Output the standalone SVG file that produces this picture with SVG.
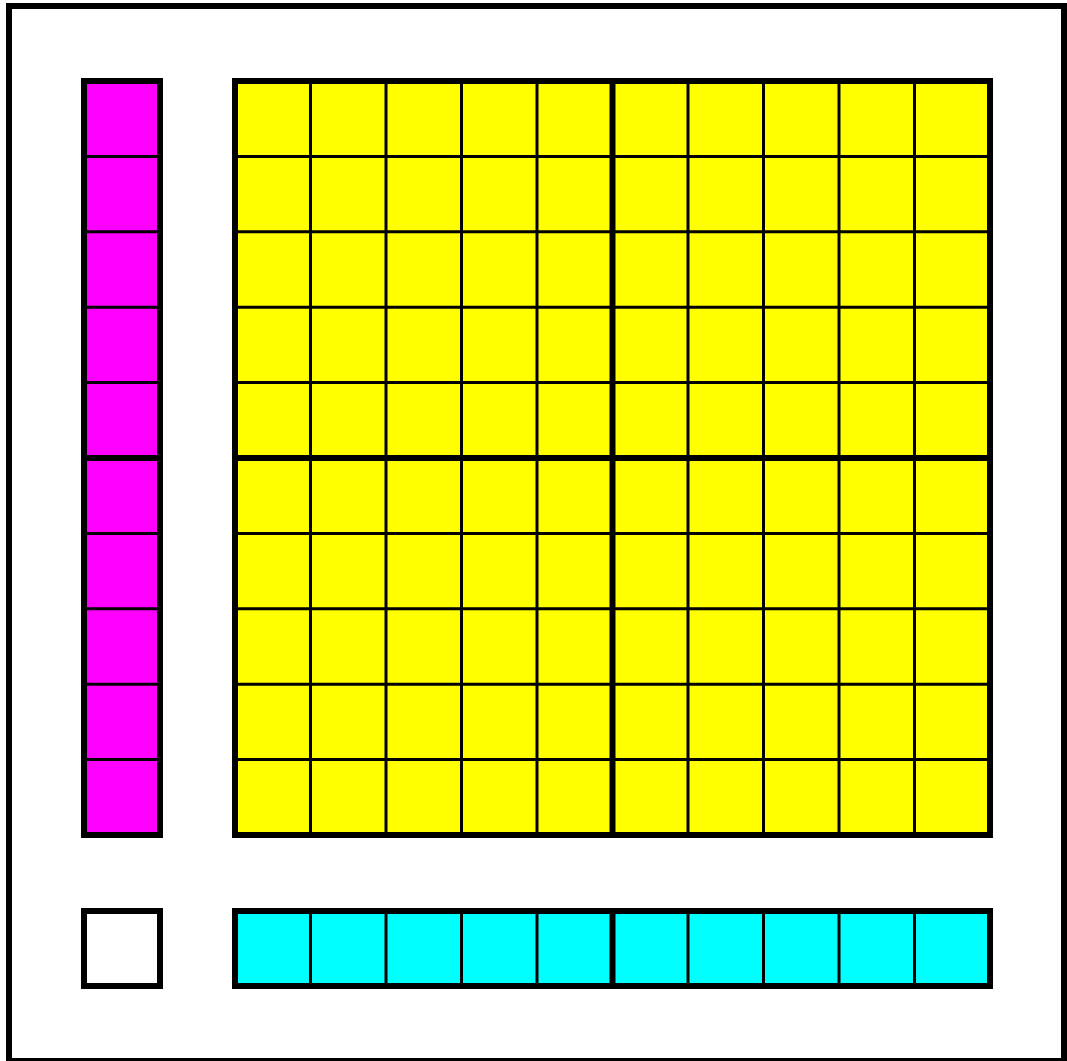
<svg xmlns="http://www.w3.org/2000/svg" width="1067" height="1061" viewBox="0 0 1067 1061">
  <style>
    .thin { stroke: #000; stroke-width: 3; fill: none; }
    .thick { stroke: #000; stroke-width: 6; fill: none; stroke-linejoin: miter; }
  </style>
  <rect x="0" y="0" width="1067" height="1061" fill="#fff"/>
  <rect id="frame" class="thick" x="9" y="6" width="1055" height="1055"/>

  <g id="magenta-column">
    <rect x="84" y="81" width="76" height="754" fill="#ff00ff"/>
    <path class="thin" d="M84 156.4H160M84 231.8H160M84 307.2H160M84 382.6H160M84 533.4H160M84 608.8H160M84 684.2H160M84 759.6H160"/>
    <path class="thick" d="M84 458H160"/>
    <rect class="thick" x="84" y="81" width="76" height="754"/>
  </g>

  <g id="yellow-grid">
    <rect x="235" y="81" width="755" height="754" fill="#ffff00"/>
    <path class="thin" d="M310.5 81V835M386 81V835M461.5 81V835M537 81V835M688 81V835M763.5 81V835M839 81V835M914.5 81V835"/>
    <path class="thin" d="M235 156.4H990M235 231.8H990M235 307.2H990M235 382.6H990M235 533.4H990M235 608.8H990M235 684.2H990M235 759.6H990"/>
    <path class="thick" d="M612.5 81V835M235 458H990"/>
    <rect class="thick" x="235" y="81" width="755" height="754"/>
  </g>

  <g id="unit-square">
    <rect class="thick" x="84" y="911" width="76" height="75" fill="#fff"/>
  </g>

  <g id="cyan-row">
    <rect x="235" y="911" width="755" height="75" fill="#00ffff"/>
    <path class="thin" d="M310.5 911V986M386 911V986M461.5 911V986M537 911V986M688 911V986M763.5 911V986M839 911V986M914.5 911V986"/>
    <path class="thick" d="M612.5 911V986"/>
    <rect class="thick" x="235" y="911" width="755" height="75"/>
  </g>
</svg>
